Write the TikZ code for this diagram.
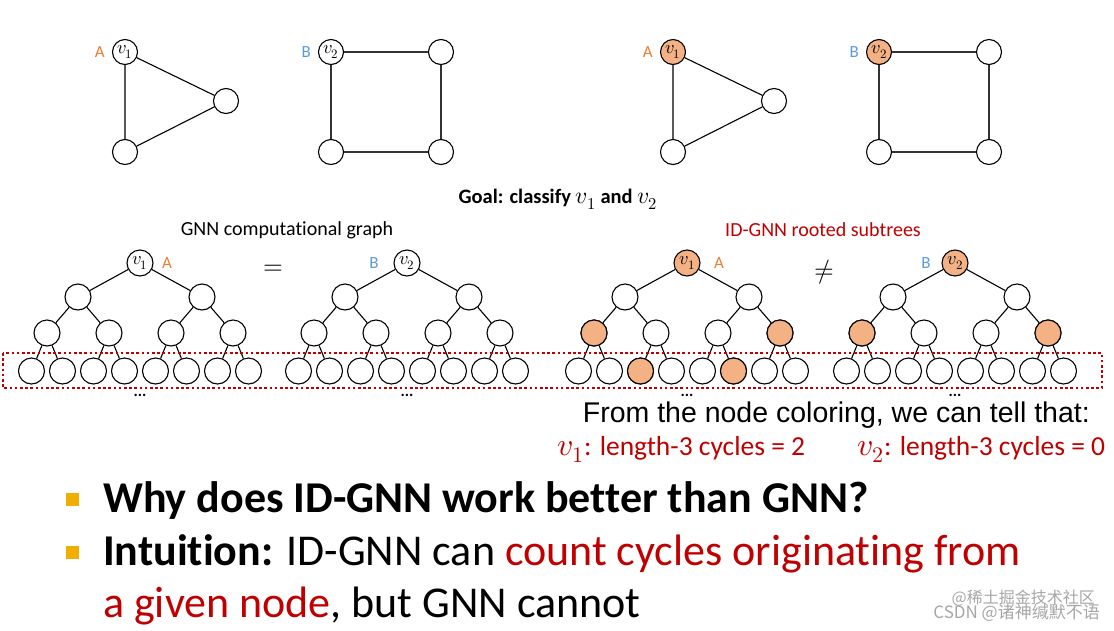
\documentclass[tikz,border=0pt]{standalone}
\usepackage{fontspec}
\usepackage{unicode-math}
\setmainfont{Carlito}[Ligatures=NoCommon]
\setmathfont{Latin Modern Math}[Scale=1.15]
\newfontfamily\arialfont{Liberation Sans}
\newfontfamily\cjk{Noto Sans CJK SC}
\usetikzlibrary{positioning}

\definecolor{idorange}{HTML}{ED7D31}
\definecolor{idblue}{HTML}{5B9BD5}
\definecolor{idfill}{HTML}{F4B183}
\definecolor{idred}{HTML}{C00000}
\definecolor{idgold}{HTML}{F0AE00}

\begin{document}
\begin{tikzpicture}[x=1pt,y=-1pt,
      vtx/.style={draw,circle,line width=1.1pt,minimum size=25pt,inner sep=0pt,fill=white,
        font=\fontsize{16}{16}\selectfont},
      hit/.style={vtx,fill=idfill},
      edge/.style={line width=1.1pt},
      tag/.style={inner sep=0pt,font=\fontsize{17}{17}\selectfont},
      txt/.style={inner sep=0pt,anchor=base west},
      bullet/.style={fill=idgold,minimum size=13pt,inner sep=0pt}]
      \useasboundingbox (0,0) rectangle (1114,630);

      % input graphs: plain (left) and ID colored (right)
      \foreach \s/\dx/\rs in {l/0/vtx, r/548/hit} {
        \node[\rs] (\s-a1) at (125+\dx,52) {$v_1$};
        \node[vtx] (\s-a2) at (125+\dx,152) {};
        \node[vtx] (\s-a3) at (226+\dx,101) {};
        \draw[edge] (\s-a1) -- (\s-a2) -- (\s-a3) -- (\s-a1);
        \node[tag,text=idorange,left=7pt of \s-a1] {A};
        \node[\rs] (\s-b1) at (331+\dx,52) {$v_2$};
        \node[vtx] (\s-b2) at (441+\dx,52) {};
        \node[vtx] (\s-b3) at (441+\dx,152) {};
        \node[vtx] (\s-b4) at (331+\dx,152) {};
        \draw[edge,black!80] (\s-b1) -- (\s-b2) -- (\s-b3) -- (\s-b4) -- (\s-b1);
        \node[tag,text=idblue,left=7pt of \s-b1] {B};
      }

      \node[font=\bfseries\fontsize{20.5}{20.5}\selectfont] (goal) at (558,199) {Goal: classify $v_1$ and $v_2$};
      \node[font=\fontsize{20}{20}\selectfont] (gnn) at (287,230) {GNN computational graph};
      \node[font=\fontsize{20}{20}\selectfont,text=idred] (idgnn) at (823,230) {ID-GNN rooted subtrees};

      % computational trees
      \foreach \t/\cx/\v/\rs in {1/140/1/vtx, 2/407/2/vtx, 3/687/1/hit, 4/955/2/hit} {
        \node[\rs,minimum size=26pt] (t\t-r) at (\cx,263) {$v_{\v}$};
        \foreach \i in {0,1} {
          \node[vtx,minimum size=26pt] (t\t-b\i) at ({\cx+(\i-0.5)*124},297) {};
          \draw[edge] (t\t-r) -- (t\t-b\i);
        }
        \foreach \j in {0,...,3} {
          \pgfmathtruncatemacro\p{\j/2}
          \node[vtx,minimum size=26pt] (t\t-c\j) at ({\cx+(\j-1.5)*62},333) {};
          \draw[edge] (t\t-b\p) -- (t\t-c\j);
        }
        \foreach \k in {0,...,7} {
          \pgfmathtruncatemacro\p{\k/2}
          \node[vtx,minimum size=26pt] (t\t-f\k) at ({\cx+(\k-3.5)*31},371) {};
          \draw[edge] (t\t-c\p) -- (t\t-f\k);
        }
      }
      % identity coloring
      \foreach \n in {t3-c0,t3-c3,t3-f2,t3-f5,t4-c0,t4-c3}
        \node[hit,minimum size=26pt] at (\n) {};

      \node[tag,text=idorange] at (167,263) {A};
      \node[tag,text=idblue] at (374,263) {B};
      \node[tag,text=idorange] at (719,263) {A};
      \node[tag,text=idblue] at (926,263) {B};
      \node[font=\fontsize{22}{22}\selectfont] (eq) at (273,270) {$=$};
      \node[font=\fontsize{22}{22}\selectfont] (neq) at (824,272) {$\neq$};

      \draw[idred,line width=2.6pt,dash pattern=on 2.6pt off 2.6pt] (3,353) rectangle (1102,388);
      \foreach \cx in {140,407,687,955}
        \node[txt,anchor=base,font=\bfseries\fontsize{16}{16}\selectfont] at (\cx,396) {...};

      \node[txt,anchor=base east,font=\arialfont\fontsize{28.5}{28.5}\selectfont] (tell) at (1090,422)
        {From the node coloring, we can tell that:};
      \node[txt,text=idred,font=\fontsize{27.5}{27.5}\selectfont] (cyc1) at (557,455) {$v_1$: length-3 cycles = 2};
      \node[txt,text=idred,font=\fontsize{27.5}{27.5}\selectfont] (cyc2) at (857,455) {$v_2$: length-3 cycles = 0};

      % bullets
      \node[txt,font=\bfseries\fontsize{44}{44}\selectfont] (why) at (103,512) {Why does ID-GNN work better than GNN?};
      \node[txt,font=\fontsize{44}{44}\selectfont] (intu) at (103,565)
        {\textbf{Intuition:} ID-GNN can \textcolor{idred}{count cycles originating from}};
      \node[txt,font=\fontsize{44}{44}\selectfont] (intu2) at (103,617)
        {\textcolor{idred}{a given node}, but GNN cannot};
      \node[bullet] at (72,499.5) {};
      \node[bullet] at (72,552.5) {};

      \node[txt,anchor=base east,text=black!35,font=\cjk\fontsize{16}{16}\selectfont] at (1095,603) {@稀土掘金技术社区};
      \node[txt,anchor=base east,text=black!35,font=\cjk\fontsize{17}{17}\selectfont] at (1100,618) {CSDN @诸神缄默不语};
    \end{tikzpicture}
\end{document}
